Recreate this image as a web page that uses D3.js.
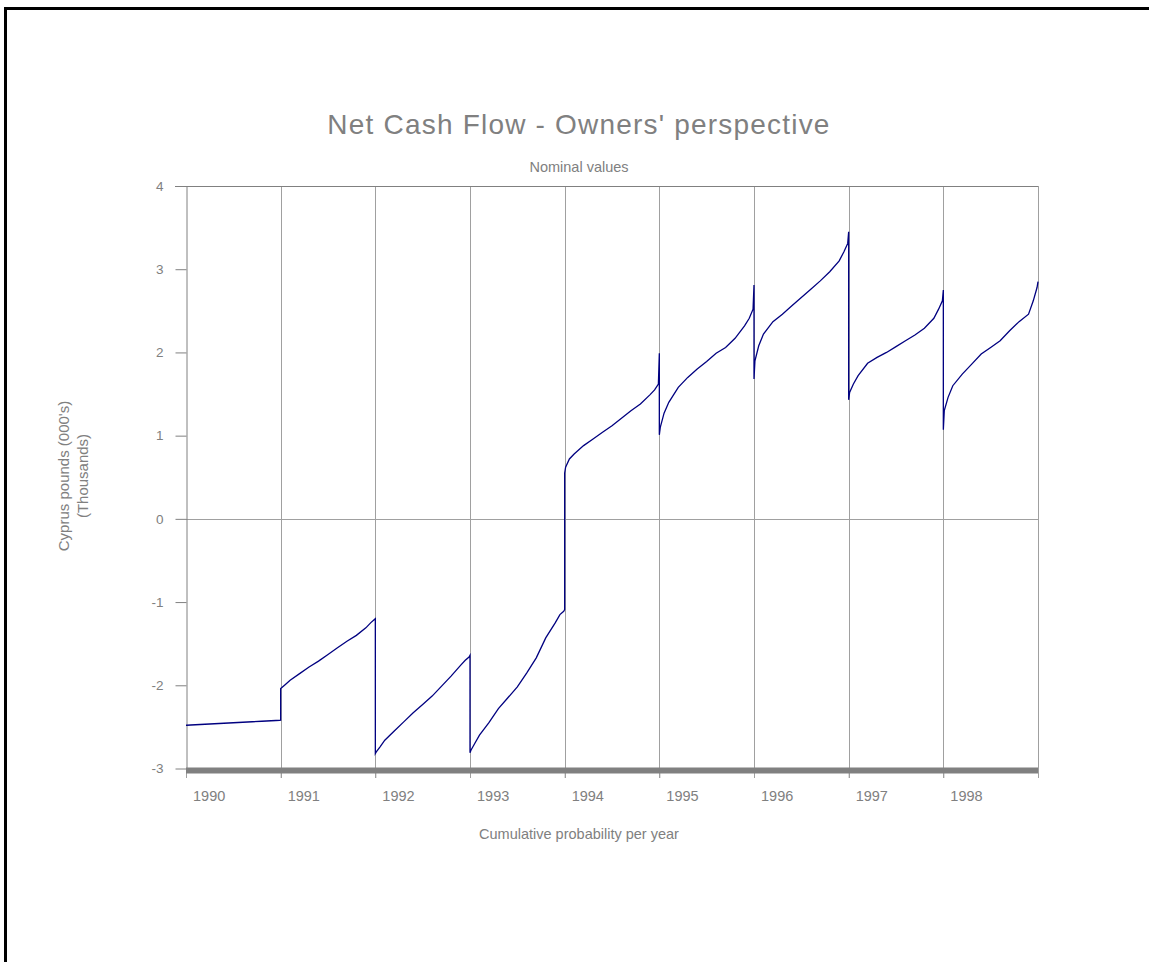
<!doctype html>
<html>
<head>
<meta charset="utf-8">
<script src="https://cdn.jsdelivr.net/npm/d3@7"></script>
<style type="text/css">
  body { margin: 0; background: #fff; }
  svg { display: block; font-family: "Liberation Sans", Arial, sans-serif; }
</style>
</head>
<body>
<svg width="1149" height="962"></svg>
<script type="text/javascript">

// year labels and the cumulative probability points of each year
var years = ["1990", "1991", "1992", "1993", "1994", "1995", "1996", "1997", "1998"];
var probs = [0, 0.01, 0.05, 0.1, 0.2, 0.3, 0.4, 0.5, 0.6, 0.7, 0.8, 0.9, 0.95, 0.99, 1];

// net cash flow (thousands) at each probability, per year
var cf1990 = [-2.48, -2.48, -2.477, -2.474, -2.468, -2.462, -2.456, -2.45, -2.444, -2.438, -2.432, -2.426, -2.423, -2.421, -2.42];
var cf1991 = [-2.04, -2.03, -1.99, -1.94, -1.86, -1.78, -1.71, -1.63, -1.55, -1.47, -1.40, -1.31, -1.25, -1.21, -1.20];
var cf1992 = [-2.82, -2.80, -2.74, -2.66, -2.55, -2.44, -2.33, -2.23, -2.13, -2.01, -1.89, -1.76, -1.70, -1.66, -1.64];
var cf1993 = [-2.81, -2.78, -2.70, -2.60, -2.45, -2.28, -2.15, -2.02, -1.85, -1.67, -1.43, -1.25, -1.15, -1.11, -1.09];
var cf1994 = [0.55, 0.62, 0.72, 0.78, 0.88, 0.96, 1.04, 1.12, 1.21, 1.30, 1.38, 1.49, 1.55, 1.62, 1.99];
var cf1995 = [1.01, 1.10, 1.27, 1.40, 1.58, 1.70, 1.80, 1.89, 1.99, 2.06, 2.17, 2.32, 2.41, 2.52, 2.81];
var cf1996 = [1.68, 1.90, 2.08, 2.22, 2.37, 2.46, 2.56, 2.66, 2.76, 2.86, 2.97, 3.10, 3.21, 3.31, 3.45];
var cf1997 = [1.43, 1.52, 1.62, 1.72, 1.87, 1.94, 2.00, 2.07, 2.14, 2.21, 2.29, 2.41, 2.52, 2.62, 2.75];
var cf1998 = [1.07, 1.30, 1.46, 1.60, 1.74, 1.86, 1.98, 2.06, 2.14, 2.26, 2.37, 2.46, 2.62, 2.78, 2.85];

var yTicks = [-3, -2, -1, 0, 1, 2, 3, 4];

var series = [cf1990, cf1991, cf1992, cf1993, cf1994, cf1995, cf1996, cf1997, cf1998];

var svg = d3.select("svg");
var grey = "#808080";

var x = d3.scaleLinear().domain([0, years.length]).range([186, 1038]);
var y = d3.scaleLinear().domain([-3, 4]).range([768.5, 186]);

// page frame
svg.append("path")
   .attr("d", "M5.5,962 V8.5 H1149")
   .attr("fill", "none")
   .attr("stroke", "#000")
   .attr("stroke-width", 3);

// vertical year separators
svg.append("g").selectAll("line")
   .data(d3.range(1, years.length + 1))
   .enter().append("line")
   .attr("x1", d => Math.round(x(d)) + 0.5)
   .attr("x2", d => Math.round(x(d)) + 0.5)
   .attr("y1", y(4))
   .attr("y2", 778)
   .attr("stroke", "#a0a0a0");

// zero line
svg.append("line")
   .attr("x1", x(0)).attr("x2", x(years.length))
   .attr("y1", Math.round(y(0)) + 0.5).attr("y2", Math.round(y(0)) + 0.5)
   .attr("stroke", "#a0a0a0");

// top frame
svg.append("line")
   .attr("x1", 175).attr("x2", x(years.length))
   .attr("y1", Math.round(y(4)) + 0.5).attr("y2", Math.round(y(4)) + 0.5)
   .attr("stroke", grey);

// y axis (plain hyphen for negatives)
var yAxis = svg.append("g")
   .attr("transform", "translate(186.5,0)")
   .call(d3.axisLeft(y).tickValues(yTicks).tickFormat(d => String(d))
           .tickSize(11).tickPadding(12).tickSizeOuter(0));
yAxis.select(".domain").attr("stroke", grey);
yAxis.selectAll(".tick line").attr("stroke", grey);
yAxis.selectAll(".tick text")
     .attr("fill", grey)
     .style("font-size", "13.5px")
     .style("font-family", "Liberation Sans, Arial, sans-serif");

// x axis ticks (below the thick bar)
var xAxis = svg.append("g")
   .attr("transform", "translate(0,770)")
   .call(d3.axisBottom(x).tickValues(d3.range(0, years.length)).tickSize(8).tickFormat(""));
xAxis.select(".domain").remove();
xAxis.selectAll(".tick line").attr("stroke", "#a0a0a0");

// thick bottom bar
svg.append("line")
   .attr("x1", x(0)).attr("x2", x(years.length))
   .attr("y1", 770.5).attr("y2", 770.5)
   .attr("stroke", grey)
   .attr("stroke-width", 6);

// year labels
svg.append("g").selectAll("text")
   .data(years)
   .enter().append("text")
   .attr("x", (d, i) => x(i) + 7)
   .attr("y", 801)
   .attr("fill", grey)
   .style("font-size", "14.5px")
   .text(d => d);

// the cash flow line
var points = [];
series.forEach(function(vals, i) {
    probs.forEach(function(p, j) {
        points.push({ x: i + p, v: vals[j] });
    });
});

var line = d3.line()
             .x(d => x(d.x))
             .y(d => y(d.v));

svg.append("path")
   .datum(points)
   .attr("d", line)
   .attr("fill", "none")
   .attr("stroke", "#000080")
   .attr("stroke-width", 1.3);

// titles
svg.append("text")
   .attr("x", 579).attr("y", 134)
   .attr("text-anchor", "middle")
   .attr("fill", grey)
   .style("font-size", "28px")
   .style("letter-spacing", "1.2px")
   .text("Net Cash Flow - Owners' perspective");

svg.append("text")
   .attr("x", 579).attr("y", 172)
   .attr("text-anchor", "middle")
   .attr("fill", grey)
   .style("font-size", "14.5px")
   .text("Nominal values");

svg.append("text")
   .attr("x", 579).attr("y", 839)
   .attr("text-anchor", "middle")
   .attr("fill", grey)
   .style("font-size", "14.5px")
   .text("Cumulative probability per year");

var yTitle = svg.append("text")
   .attr("transform", "translate(69,476) rotate(-90)")
   .attr("text-anchor", "middle")
   .attr("fill", grey)
   .style("font-size", "15px");
yTitle.append("tspan").attr("x", 0).attr("dy", 0).text("Cyprus pounds (000's)");
yTitle.append("tspan").attr("x", 0).attr("dy", 19).text("(Thousands)");

</script>
</body>
</html>
